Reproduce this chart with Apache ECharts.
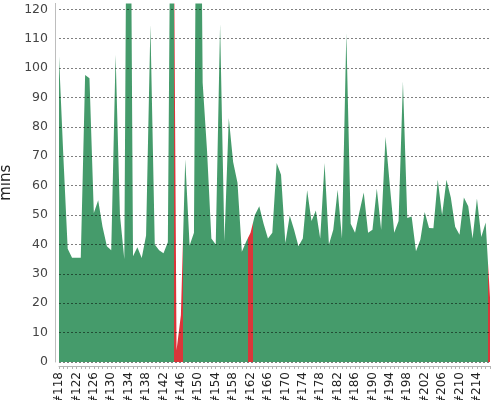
<!DOCTYPE html>
<html lang="en">

<head>
  <meta charset="UTF-8">
  <script src="https://cdn.jsdelivr.net/npm/echarts@6/dist/echarts.min.js"></script>
  <style>
    body {
      margin: 0;
      background: #fff;
    }

    #main {
      width: 500px;
      height: 400px;
    }
  </style>
  <title>Build time trend</title>
</head>

<body>
  <div id="main"></div>

  <script>
    // builds #118 .. #217
    const firstBuild = 118;
    const durations = [
      104, 70, 38.5, 35.5, 35.5, 35.5, 97.6, 96.5, 50.7, 55,
      46, 39.4, 38, 104.5, 50, 35, 280, 36, 39, 35.4,
      43, 114.7, 40, 38, 37, 40.7, 240, 4, 16, 69,
      39.6, 44, 280, 95, 72, 42, 40, 115, 41, 83,
      68, 61, 37.5, 41, 44, 50, 53, 47, 42, 44,
      67.7, 63.7, 40.5, 49.8, 45, 39.4, 42, 58.4, 48, 51.5,
      42, 67.7, 40, 45, 58.6, 42, 112, 47, 44, 51,
      57.7, 44, 45, 59, 45, 76.6, 60, 44, 48, 95.4,
      49, 49.5, 37.7, 41.6, 51, 45.6, 45.5, 62, 50, 62,
      56, 46, 43.3, 56, 53, 42, 55.6, 42.5, 47.5, 22
    ];
    // builds that failed (drawn red)
    const failedBuilds = [145, 146, 162, 217];
    const labelEvery = 4;

    const green = '#459b6b';
    const red = '#d9363a';

    // x = build offset from the first build
    const points = durations.map((d, i) => [i, d]);

    // colour band around each build, half a build to each side
    const pieces = [];
    let start = -1;
    failedBuilds.forEach(b => {
      const i = b - firstBuild;
      if (i - 0.5 > start) {
        pieces.push({ gte: start, lt: i - 0.5, color: green });
      }
      pieces.push({ gte: i - 0.5, lt: i + 0.5, color: red });
      start = i + 0.5;
    });
    pieces.push({ gte: start, lt: durations.length + 1, color: green });

    var myChart = echarts.init(document.getElementById('main'));
    var option = {
      animation: false,
      grid: {
        left: 59,
        right: 10,
        top: 3.4,
        bottom: 38,
        outerBoundsMode: 'none'
      },
      visualMap: {
        show: false,
        type: 'piecewise',
        orient: 'horizontal',
        dimension: 0,
        seriesIndex: 0,
        pieces: pieces,
        outOfRange: { color: green }
      },
      xAxis: {
        type: 'value',
        min: 0,
        max: durations.length - 1,
        interval: 1,
        offset: 4,
        splitLine: { show: false },
        axisLine: { onZero: false, lineStyle: { color: '#b5b5b5' } },
        axisTick: {
          length: 3,
          lineStyle: { color: '#b5b5b5' }
        },
        axisLabel: {
          rotate: 90,
          margin: 6,
          fontSize: 12,
          color: '#222',
          fontFamily: 'DejaVu Sans',
          formatter: v => (v % labelEvery === 0 ? '#' + (firstBuild + v) : '')
        }
      },
      yAxis: {
        type: 'value',
        min: 0,
        max: 122,
        interval: 10,
        offset: 4,
        z: 5,
        name: 'mins',
        nameLocation: 'middle',
        nameGap: 38,
        nameTextStyle: {
          fontSize: 15,
          color: '#222',
          fontFamily: 'DejaVu Sans'
        },
        axisLine: { show: true, onZero: false, lineStyle: { color: '#bdbdbd' } },
        axisTick: { show: false },
        axisLabel: {
          showMaxLabel: false,
          margin: 7,
          fontSize: 12.5,
          color: '#444',
          fontFamily: 'DejaVu Sans'
        },
        splitLine: {
          showMaxLine: false,
          lineStyle: {
            color: 'rgba(0,0,0,0.5)',
            type: [2, 2],
            width: 1
          }
        }
      },
      series: [
        {
          name: 'duration',
          type: 'line',
          data: points,
          symbol: 'none',
          lineStyle: { width: 0 },
          areaStyle: { opacity: 1 }
        }
      ]
    };

    option && myChart.setOption(option);
  </script>
</body>

</html>
